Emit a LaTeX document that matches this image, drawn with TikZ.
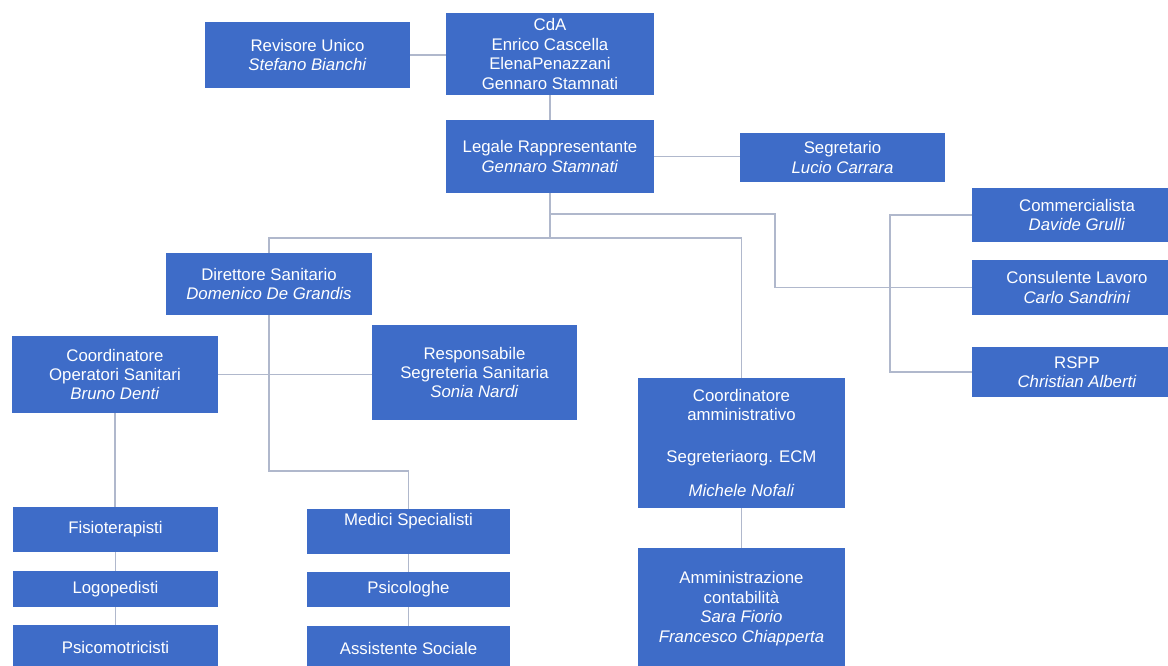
\documentclass[tikz,border=0pt]{standalone}
\usepackage{fontspec}
\setmainfont{Liberation Sans}
\definecolor{boxblue}{RGB}{62,108,200}
\definecolor{linecol}{RGB}{176,184,204}
\begin{document}
\begin{tikzpicture}[x=0.75pt,y=-0.75pt,
  box/.style={fill=boxblue, draw=none, text=white, align=center, inner sep=0pt,
    font=\fontsize{12.6}{14.6}\selectfont},
  txt/.style={text=white, align=center, inner sep=0pt, font=\fontsize{12.6}{14.6}\selectfont},
  sz/.style 2 args={minimum width=#1*0.75pt, minimum height=#2*0.75pt},
  conn/.style={draw=linecol, line width=0.9pt}]
\useasboundingbox (0,0) rectangle (1168,666);

% boxes
\node[box, sz={205}{66}] (rev) at (307.5,55) {Revisore Unico\\\textit{Stefano Bianchi}};
\node[box, sz={208}{82}] (cda) at (550,54) {CdA\\Enrico Cascella\\ElenaPenazzani\\Gennaro Stamnati};
\node[box, sz={208}{73}] (leg) at (550,156.5) {Legale Rappresentante\\\textit{Gennaro Stamnati}};
\node[box, sz={205}{49}] (seg) at (842.5,157.5) {Segretario\\\textit{Lucio Carrara}};
\node[box, sz={210}{54}] (com) at (1077,215) {Commercialista\\\textit{Davide Grulli}};
\node[box, sz={210}{55}] (cons) at (1077,287.5) {Consulente Lavoro\\\textit{Carlo Sandrini}};
\node[box, sz={210}{50}] (rspp) at (1077,372) {RSPP\\\textit{Christian Alberti}};
\node[box, sz={206}{62}] (dir) at (269,284) {Direttore Sanitario\\\textit{Domenico De Grandis}};
\node[box, sz={206}{77}] (cos) at (115,374.5) {Coordinatore\\Operatori Sanitari\\\textit{Bruno Denti}};
\node[box, sz={205}{95}] (rss) at (474.5,372.5) {Responsabile\\Segreteria Sanitaria\\\textit{Sonia Nardi}};
\node[box, sz={207}{130}] (cam) at (741.5,443) {Coordinatore\\amministrativo\\[17pt]Segreteriaorg. ECM\\[11pt]\textit{Michele Nofali}};
\node[box, sz={205}{45}] (fis) at (115.5,529.5) {Fisioterapisti};
\node[box, sz={205}{36}] (log) at (115.5,589) {Logopedisti};
\node[box, sz={205}{45}] (psm) at (115.5,647.5) {Psicomotricisti};
\node[box, sz={203}{45}] (med) at (408.5,531.5) {};
\node[txt] at (408.5,521) {Medici Specialisti};
\node[box, sz={203}{35}] (psi) at (408.5,589.5) {Psicologhe};
\node[box, sz={203}{45}] (ass) at (408.5,648.5) {Assistente Sociale};
\node[box, sz={207}{121}] (amm) at (741.5,608.5) {Amministrazione\\contabilità\\\textit{Sara Fiorio}\\\textit{Francesco Chiapperta}};

% junction points
\coordinate (hA) at (550,214);
\coordinate (hB) at (550,238);
\coordinate (k1) at (775,214);
\coordinate (br) at (890,214);
\coordinate (d1) at (269,471);

% connectors
\draw[conn] (rev.east) -- (rev.east -| cda.west);
\draw[conn] (cda.south) -- (leg.north);
\draw[conn] (leg.east) -- (leg.east -| seg.west);
\draw[conn] (leg.south) -- (hB) -| (dir.north);
\draw[conn] (hB) -| (cam.north);
\draw[conn] (hA) -- (k1) |- (cons.west);
\draw[conn] (com.west) -- (com.west -| br) -- (rspp.west -| br) -- (rspp.west);
\draw[conn] (dir.south) -- (d1) -| (med.north);
\draw[conn] (cos.east) -- (cos.east -| rss.west);
\draw[conn] (cos.south) -- (cos.south |- fis.north);
\draw[conn] (fis.south) -- (log.north);
\draw[conn] (log.south) -- (psm.north);
\draw[conn] (med.south) -- (psi.north);
\draw[conn] (psi.south) -- (ass.north);
\draw[conn] (cam.south) -- (amm.north);
\end{tikzpicture}
\end{document}
